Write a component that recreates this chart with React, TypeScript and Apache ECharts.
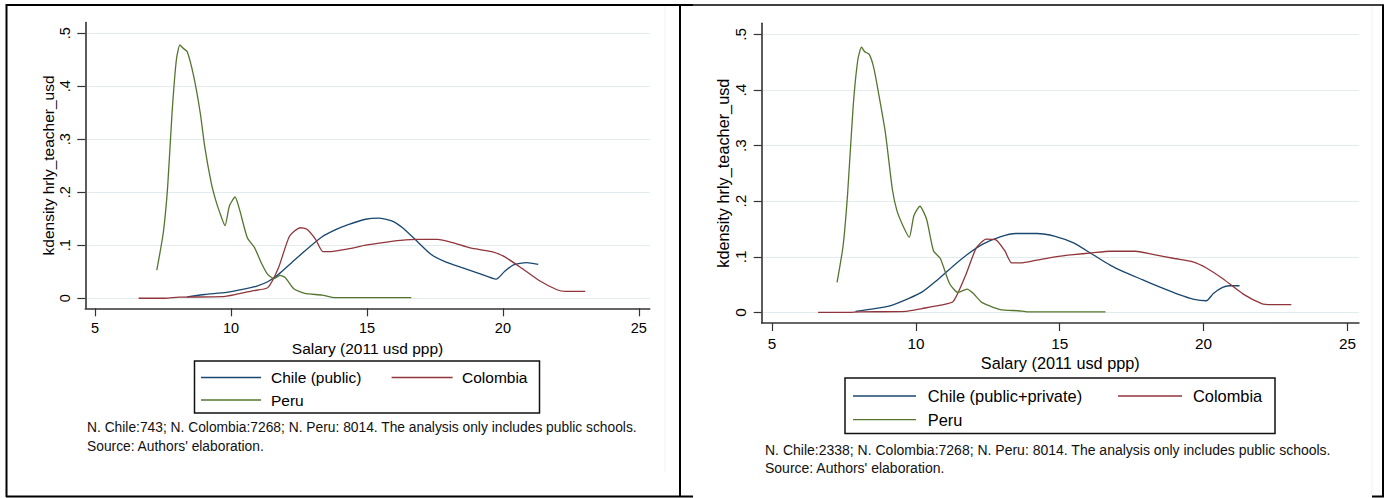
import React, { useEffect, useRef } from "react";
import * as echarts from "echarts";

const xTicks = [5, 10, 15, 20, 25];
const yTicks = [0, 0.1, 0.2, 0.3, 0.4, 0.5];

const leftLegend = ["Chile (public)", "Colombia", "Peru"];
const rightLegend = ["Chile (public+private)", "Colombia", "Peru"];

const leftNote = [
  "N. Chile:743; N. Colombia:7268; N. Peru: 8014. The analysis only includes public schools.",
  "Source: Authors' elaboration.",
];
const rightNote = [
  "N. Chile:2338; N. Colombia:7268; N. Peru: 8014. The analysis only includes public schools.",
  "Source: Authors' elaboration.",
];

const leftChile: [number, number][] = [
  [8.39, 0.0025], [9.03, 0.007], [9.83, 0.011], [10.47, 0.017], [10.95, 0.023], [11.35, 0.031],
  [11.75, 0.045], [12.23, 0.067], [12.71, 0.089], [13.35, 0.116], [13.83, 0.129], [14.31, 0.139],
  [14.95, 0.149], [15.43, 0.151], [15.91, 0.146], [16.31, 0.133], [16.71, 0.114], [17.35, 0.083],
  [17.83, 0.07], [18.47, 0.058], [19.11, 0.047], [19.75, 0.036], [20.07, 0.051], [20.39, 0.063],
  [20.87, 0.067], [21.3, 0.064],
];
const leftColombia: [number, number][] = [
  [6.6, 0.0], [7.59, 0.0], [8.07, 0.002], [9.67, 0.003], [10.15, 0.007], [10.79, 0.014],
  [11.35, 0.02], [11.75, 0.058], [12.15, 0.117], [12.55, 0.133], [12.79, 0.13], [13.11, 0.111],
  [13.38, 0.088], [13.67, 0.088], [14.31, 0.093], [14.95, 0.1], [15.59, 0.105], [16.23, 0.109],
  [16.87, 0.111], [17.59, 0.111], [18.15, 0.105], [18.79, 0.095], [19.59, 0.088], [20.07, 0.078],
  [20.71, 0.056], [21.35, 0.033], [21.99, 0.016], [22.31, 0.013], [23.03, 0.013],
];
const leftPeru: [number, number][] = [
  [7.27, 0.053], [7.51, 0.124], [7.67, 0.211], [7.83, 0.349], [7.99, 0.45], [8.12, 0.478],
  [8.23, 0.472], [8.39, 0.465], [8.63, 0.418], [8.87, 0.349], [9.03, 0.287], [9.27, 0.218],
  [9.43, 0.186], [9.59, 0.161], [9.78, 0.137], [9.94, 0.174], [10.15, 0.191], [10.31, 0.168],
  [10.6, 0.114], [10.87, 0.095], [11.11, 0.067], [11.35, 0.045], [11.59, 0.037], [11.8, 0.043],
  [11.99, 0.039], [12.31, 0.018], [12.71, 0.009], [13.35, 0.006], [13.83, 0.001], [16.63, 0.001],
];

const rightChile: [number, number][] = [
  [7.9, 0.002], [8.46, 0.006], [9.1, 0.012], [9.74, 0.025], [10.22, 0.037], [10.69, 0.056],
  [11.33, 0.085], [11.81, 0.105], [12.29, 0.122], [12.93, 0.136], [13.48, 0.142], [14.2, 0.142],
  [14.84, 0.137], [15.48, 0.125], [16.12, 0.105], [16.75, 0.085], [17.23, 0.073], [17.87, 0.059],
  [18.51, 0.045], [19.15, 0.032], [19.63, 0.024], [20.1, 0.021], [20.34, 0.034], [20.66, 0.045],
  [20.9, 0.048], [21.25, 0.048],
];
const rightColombia: [number, number][] = [
  [6.6, 0.0], [7.58, 0.0], [8.06, 0.001], [9.66, 0.002], [10.22, 0.007], [10.85, 0.013],
  [11.3, 0.02], [11.73, 0.067], [12.1, 0.116], [12.45, 0.132], [12.77, 0.131], [13.09, 0.111],
  [13.33, 0.089], [13.64, 0.089], [14.2, 0.094], [14.84, 0.1], [15.48, 0.104], [16.12, 0.107],
  [16.75, 0.11], [17.63, 0.11], [18.19, 0.105], [18.99, 0.097], [19.63, 0.091], [20.1, 0.08],
  [20.66, 0.061], [21.38, 0.033], [22.02, 0.016], [22.34, 0.014], [23.05, 0.014],
];
const rightPeru: [number, number][] = [
  [7.26, 0.054], [7.47, 0.12], [7.63, 0.216], [7.82, 0.371], [7.98, 0.454], [8.11, 0.477],
  [8.22, 0.469], [8.38, 0.464], [8.54, 0.439], [8.7, 0.395], [8.94, 0.323], [9.18, 0.222],
  [9.34, 0.183], [9.55, 0.156], [9.77, 0.135], [9.93, 0.174], [10.14, 0.191], [10.37, 0.168],
  [10.61, 0.111], [10.85, 0.097], [11.17, 0.052], [11.46, 0.036], [11.78, 0.042], [12.0, 0.034],
  [12.29, 0.018], [12.93, 0.005], [13.56, 0.003], [13.88, 0.001], [16.59, 0.001],
];

const COLORS = ["#1a476f", "#90353b", "#55752f"];
const FONT = "'Liberation Sans', Arial, sans-serif";
const X_MIN = 4.64;
const X_MAX = 25.4;
const Y_MIN = -0.019;
const Y_MAX = 0.52;

function xAxis(gridIndex: number, fs: number, margin: number, nameGap: number) {
  return {
    type: "value",
    gridIndex,
    min: X_MIN,
    max: X_MAX,
    name: "Salary (2011 usd ppp)",
    nameLocation: "middle",
    nameGap,
    nameTextStyle: { color: "#000", fontSize: fs + 1, fontFamily: FONT },
    axisLine: { show: true, onZero: false, lineStyle: { color: "#333", width: 1.6 } },
    axisTick: { show: true, length: 8, customValues: xTicks, lineStyle: { color: "#333", width: 1.2 } },
    axisLabel: { customValues: xTicks, margin, color: "#000", fontSize: fs, fontFamily: FONT },
    splitLine: { show: false },
  };
}

function yAxis(gridIndex: number, fs: number, margin: number, nameGap: number) {
  return {
    type: "value",
    gridIndex,
    min: Y_MIN,
    max: Y_MAX,
    name: "kdensity hrly_teacher_usd",
    nameLocation: "middle",
    nameRotate: 90,
    nameGap,
    nameTextStyle: { color: "#000", fontSize: fs + 1, fontFamily: FONT },
    axisLine: { show: true, onZero: false, lineStyle: { color: "#333", width: 1.6 } },
    axisTick: { show: true, length: 8, customValues: yTicks, lineStyle: { color: "#333", width: 1.2 } },
    axisLabel: {
      customValues: yTicks,
      rotate: 90,
      margin,
      color: "#000",
      fontSize: fs,
      fontFamily: FONT,
      formatter: (v: number) => (Math.abs(v) < 1e-9 ? "0" : "." + Math.round(v * 10)),
    },
    splitLine: { show: true, lineStyle: { color: "#e2ebed", width: 1 } },
  };
}

function lineSeries(name: string, data: [number, number][], idx: number, color: string) {
  return {
    type: "line",
    name,
    xAxisIndex: idx,
    yAxisIndex: idx,
    data,
    symbol: "none",
    showSymbol: false,
    smooth: 0.2,
    lineStyle: { color, width: 1.3 },
    itemStyle: { color },
    silent: true,
  };
}

function legendBox(
  x: number, y: number, w: number, h: number,
  rows: number[], s1: number[], t1: number, s2: number[], t2: number,
  labels: string[], fs: number
) {
  const els: any[] = [
    { type: "rect", shape: { x, y, width: w, height: h }, style: { fill: "none", stroke: "#111", lineWidth: 1.5 } },
  ];
  const items = [
    { sx: s1, tx: t1, ry: rows[0] },
    { sx: s2, tx: t2, ry: rows[0] },
    { sx: s1, tx: t1, ry: rows[1] },
  ];
  items.forEach((it, i) => {
    els.push({
      type: "line",
      shape: { x1: it.sx[0], y1: it.ry, x2: it.sx[1], y2: it.ry },
      style: { stroke: COLORS[i], lineWidth: 1.3 },
    });
    els.push({
      type: "text",
      x: it.tx,
      y: it.ry,
      style: { text: labels[i], fill: "#000", font: `${fs}px ${FONT}`, textVerticalAlign: "middle", textAlign: "left" },
    });
  });
  return els;
}

function notes(x: number, ys: number[], lines: string[], fs: number) {
  return lines.map((t, i) => ({
    type: "text",
    x,
    y: ys[i],
    style: { text: t, fill: "#111", font: `${fs}px ${FONT}`, textVerticalAlign: "middle", textAlign: "left" },
  }));
}

export default function App() {
  const ref = useRef<HTMLDivElement>(null);
  useEffect(() => {
    document.body.style.margin = "0";
    const chart = echarts.init(ref.current!, null, { renderer: "svg" });
    const borders: any[] = [
      { type: "line", shape: { x1: 6.5, y1: 4, x2: 6.5, y2: 497 }, style: { stroke: "#000", lineWidth: 2 } },
      { type: "line", shape: { x1: 6, y1: 5, x2: 693, y2: 5 }, style: { stroke: "#000", lineWidth: 2 } },
      { type: "line", shape: { x1: 693, y1: 5, x2: 1384, y2: 5 }, style: { stroke: "#000", lineWidth: 1.6 } },
      { type: "line", shape: { x1: 680, y1: 5, x2: 680, y2: 497 }, style: { stroke: "#000", lineWidth: 2 } },
      { type: "line", shape: { x1: 6, y1: 496.5, x2: 693, y2: 496.5 }, style: { stroke: "#000", lineWidth: 2 } },
      { type: "line", shape: { x1: 1383, y1: 5, x2: 1383, y2: 497 }, style: { stroke: "#000", lineWidth: 2 } },
      { type: "line", shape: { x1: 1372, y1: 496.5, x2: 1384, y2: 496.5 }, style: { stroke: "#000", lineWidth: 2 } },
      { type: "line", shape: { x1: 665, y1: 6, x2: 665, y2: 472 }, style: { stroke: "#edf2f3", lineWidth: 1 } },
      { type: "line", shape: { x1: 1372, y1: 6, x2: 1372, y2: 495 }, style: { stroke: "#edf2f3", lineWidth: 1 } },
    ];
    const graphics = [
      ...borders,
      ...legendBox(194.5, 361, 345, 52, [377.5, 400], [201, 261], 271, [391.6, 452.6], 462, leftLegend, 15.5),
      ...legendBox(845, 378, 430, 55.6, [396, 419.6], [853, 916], 927.7, [1118, 1182], 1193, rightLegend, 16.4),
      ...notes(87, [427.5, 446], leftNote, 13.8),
      ...notes(765, [449.5, 468], rightNote, 14),
    ];
    chart.setOption({
      animation: false,
      backgroundColor: "#fff",
      textStyle: { fontFamily: FONT },
      grid: [
        { left: 85.3, top: 22.6, width: 564.4, height: 285.7, containLabel: false },
        { left: 761.7, top: 23.3, width: 597.2, height: 299.7, containLabel: false },
      ],
      xAxis: [xAxis(0, 14.5, 12, 24), xAxis(1, 15.3, 12.5, 27)],
      yAxis: [yAxis(0, 14.5, 13, 29), yAxis(1, 15.3, 14, 31)],
      series: [
        lineSeries(leftLegend[0], leftChile, 0, COLORS[0]),
        lineSeries(leftLegend[1], leftColombia, 0, COLORS[1]),
        lineSeries(leftLegend[2], leftPeru, 0, COLORS[2]),
        lineSeries(rightLegend[0], rightChile, 1, COLORS[0]),
        lineSeries(rightLegend[1], rightColombia, 1, COLORS[1]),
        lineSeries(rightLegend[2], rightPeru, 1, COLORS[2]),
      ],
      graphic: graphics,
    });
    return () => chart.dispose();
  }, []);
  return <div ref={ref} style={{ width: 1393, height: 498 }} />;
}
